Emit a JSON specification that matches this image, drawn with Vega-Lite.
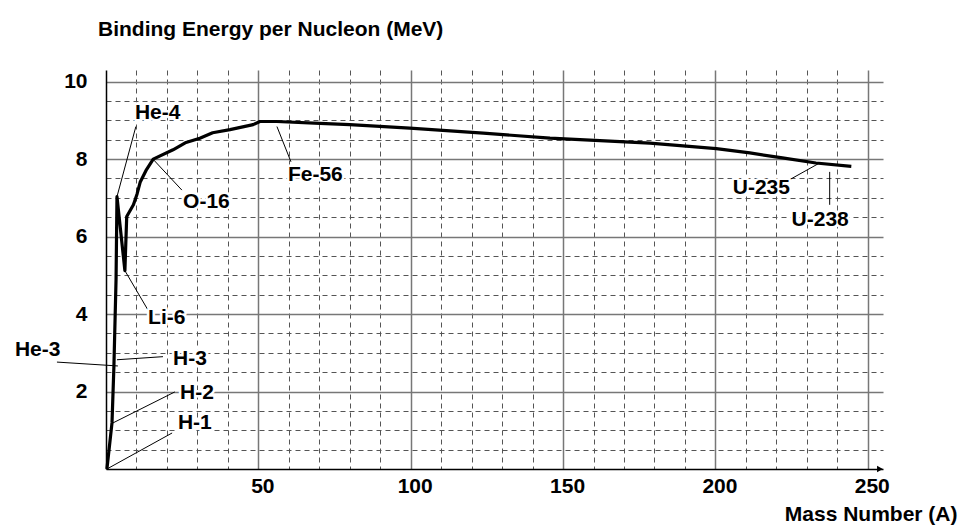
{
  "$schema": "https://vega.github.io/schema/vega-lite/v6.json",
  "width": 777,
  "height": 399,
  "autosize": "none",
  "padding": {"left": 106, "top": 70, "right": 78, "bottom": 56},
  "background": "white",
  "title": {
    "text": "Binding Energy per Nucleon (MeV)",
    "anchor": "start",
    "frame": "group",
    "dx": -8,
    "offset": 13,
    "baseline": "alphabetic",
    "font": "Liberation Sans",
    "fontSize": 21,
    "fontWeight": "bold",
    "color": "black"
  },
  "config": {
    "view": {"stroke": null},
    "font": "Liberation Sans"
  },
  "datasets": {
    "curve": [
      {"A": 0.3, "E": 0},
      {"A": 1.97, "E": 1.19},
      {"A": 2.6, "E": 2.66},
      {"A": 3.3, "E": 4.9},
      {"A": 3.6, "E": 7.03},
      {"A": 6.2, "E": 5.12},
      {"A": 6.8, "E": 6.52},
      {"A": 9.0, "E": 6.82},
      {"A": 10.2, "E": 7.1},
      {"A": 11.2, "E": 7.4},
      {"A": 13.3, "E": 7.73},
      {"A": 15.5, "E": 8.0},
      {"A": 22, "E": 8.24},
      {"A": 26, "E": 8.42},
      {"A": 30.8, "E": 8.54},
      {"A": 35, "E": 8.68},
      {"A": 40.7, "E": 8.76},
      {"A": 48.3, "E": 8.89},
      {"A": 50.5, "E": 8.97},
      {"A": 56, "E": 8.97},
      {"A": 70.2, "E": 8.92},
      {"A": 80, "E": 8.89},
      {"A": 99.7, "E": 8.8},
      {"A": 123.8, "E": 8.67},
      {"A": 145.7, "E": 8.54},
      {"A": 178.5, "E": 8.41},
      {"A": 200.3, "E": 8.27},
      {"A": 211.3, "E": 8.16},
      {"A": 222, "E": 8.03},
      {"A": 233, "E": 7.9},
      {"A": 244.6, "E": 7.81}
    ],
    "labels": [
      {"label": "He-4", "lx": 9.5, "ly": 9.2, "px": 3.6, "py": 7.03, "qx": 9.8, "qy": 8.84},
      {"label": "O-16", "lx": 25.3, "ly": 6.9, "px": 15.4, "py": 8.0, "qx": 24.9, "qy": 7.2},
      {"label": "Fe-56", "lx": 59.7, "ly": 7.6, "px": 56.1, "py": 8.84, "qx": 60.7, "qy": 7.93},
      {"label": "U-235", "lx": 205.7, "ly": 7.26, "px": 234.2, "py": 7.9, "qx": 224.4, "qy": 7.47},
      {"label": "U-238", "lx": 225, "ly": 6.43, "px": 237.5, "py": 7.67, "qx": 237.5, "qy": 6.82},
      {"label": "Li-6", "lx": 13.8, "ly": 3.9, "px": 6.2, "py": 5.12, "qx": 13.8, "qy": 4.1},
      {"label": "H-3", "lx": 22, "ly": 2.84, "px": 3.6, "py": 2.82, "qx": 18.7, "qy": 2.9},
      {"label": "He-3", "lx": -29.9, "ly": 3.07, "px": -16.1, "py": 2.76, "qx": 3.9, "qy": 2.66},
      {"label": "H-2", "lx": 24.3, "ly": 1.96, "px": 2.3, "py": 1.19, "qx": 22.6, "qy": 1.99},
      {"label": "H-1", "lx": 23.6, "ly": 1.19, "px": 0.3, "py": 0, "qx": 21.7, "qy": 0.93}
    ],
    "arrow": [{"A": 254, "E": 0}]
  },
  "resolve": {"axis": {"x": "independent", "y": "independent"}},
  "layer": [
    {
      "data": {"name": "curve"},
      "mark": {"type": "line", "color": "black", "strokeWidth": 3.2, "strokeJoin": "round", "clip": false},
      "encoding": {
        "x": {
          "field": "A", "type": "quantitative",
          "scale": {"domain": [0, 255], "nice": false, "zero": false},
          "axis": {
            "orient": "bottom", "title": null, "labels": false, "ticks": false, "domain": false,
            "grid": true, "gridColor": "#555555", "gridDash": [5, 4], "gridWidth": 1,
            "values": [10, 20, 30, 40, 60, 70, 80, 90, 110, 120, 130, 140, 160, 170, 180, 190, 210, 220, 230, 240]
          }
        },
        "y": {
          "field": "E", "type": "quantitative",
          "scale": {"domain": [0, 10.3], "nice": false},
          "axis": {
            "orient": "left", "title": null, "labels": false, "ticks": false, "domain": false,
            "grid": true, "gridColor": "#555555", "gridDash": [5, 4], "gridWidth": 1,
            "values": [0.5, 1, 1.5, 2.5, 3, 3.5, 4.5, 5, 5.5, 6.5, 7, 7.5, 8.5, 9, 9.5]
          }
        }
      }
    },
    {
      "data": {"name": "labels"},
      "mark": {"type": "rule", "color": "black", "strokeWidth": 1, "clip": false},
      "encoding": {
        "x": {
          "field": "px", "type": "quantitative",
          "scale": {"domain": [0, 255], "nice": false, "zero": false},
          "axis": {
            "orient": "bottom", "title": "Mass Number (A)",
            "titleFont": "Liberation Sans", "titleFontSize": 21, "titleFontWeight": "bold", "titleColor": "black",
            "titleAnchor": "end", "titleAlign": "right", "titleBaseline": "alphabetic", "titleX": 851, "titleY": 51,
            "values": [50, 100, 150, 200, 250],
            "grid": true, "gridColor": "#777777", "gridWidth": 1.5,
            "domain": true, "domainColor": "black", "domainWidth": 1.5,
            "ticks": false,
            "labelFont": "Liberation Sans", "labelFontSize": 21, "labelFontWeight": "bold", "labelColor": "black",
            "labelBaseline": "middle", "labelPadding": 17, "labelOffset": 4
          }
        },
        "y": {
          "field": "py", "type": "quantitative",
          "scale": {"domain": [0, 10.3], "nice": false},
          "axis": {
            "orient": "left", "title": null,
            "values": [2, 4, 6, 8, 10],
            "grid": true, "gridColor": "#777777", "gridWidth": 1.5,
            "domain": true, "domainColor": "black", "domainWidth": 1.5,
            "ticks": false,
            "labelFont": "Liberation Sans", "labelFontSize": 21, "labelFontWeight": "bold", "labelColor": "black",
            "labelBaseline": "middle", "labelPadding": 19
          }
        },
        "x2": {"field": "qx"},
        "y2": {"field": "qy"}
      }
    },
    {
      "data": {"name": "labels"},
      "mark": {"type": "text", "align": "left", "baseline": "middle", "font": "Liberation Sans", "fontSize": 21, "fontWeight": "bold", "color": "white", "stroke": "white", "strokeWidth": 5, "strokeJoin": "round", "clip": false},
      "encoding": {
        "x": {"field": "lx", "type": "quantitative", "scale": {"domain": [0, 255], "nice": false, "zero": false}, "axis": null},
        "y": {"field": "ly", "type": "quantitative", "scale": {"domain": [0, 10.3], "nice": false}, "axis": null},
        "text": {"field": "label"}
      }
    },
    {
      "data": {"name": "labels"},
      "mark": {"type": "text", "align": "left", "baseline": "middle", "font": "Liberation Sans", "fontSize": 21, "fontWeight": "bold", "color": "black", "clip": false},
      "encoding": {
        "x": {"field": "lx", "type": "quantitative", "scale": {"domain": [0, 255], "nice": false, "zero": false}, "axis": null},
        "y": {"field": "ly", "type": "quantitative", "scale": {"domain": [0, 10.3], "nice": false}, "axis": null},
        "text": {"field": "label"}
      }
    },
    {
      "data": {"name": "arrow"},
      "mark": {"type": "point", "shape": "triangle-right", "filled": true, "color": "black", "size": 45, "opacity": 1, "clip": false},
      "encoding": {
        "x": {"field": "A", "type": "quantitative", "scale": {"domain": [0, 255], "nice": false, "zero": false}, "axis": null},
        "y": {"field": "E", "type": "quantitative", "scale": {"domain": [0, 10.3], "nice": false}, "axis": null}
      }
    }
  ]
}
